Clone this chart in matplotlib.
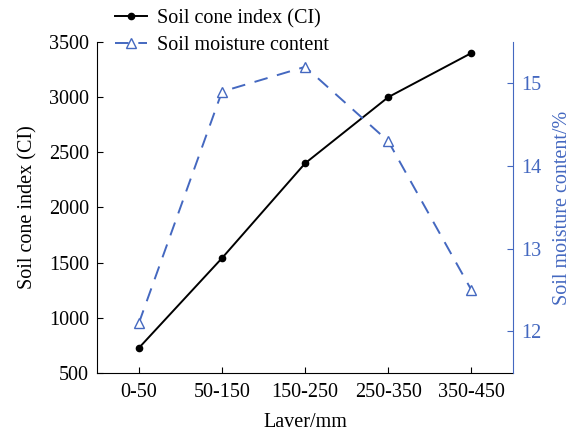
import matplotlib
matplotlib.use("Agg")
import matplotlib.pyplot as plt

plt.rcParams['font.family'] = ['Liberation Serif', 'DejaVu Serif']

layers = ['0-50', '50-150', '150-250', '250-350', '350-450']
cone_index = [725, 1540, 2400, 3000, 3400]
moisture = [12.1, 14.9, 15.2, 14.3, 12.5]

blue = '#4468c0'
x = range(len(layers))
fs = 14.5

fig = plt.figure(figsize=(5.79, 4.33), dpi=100)
ax = fig.add_axes([0.168, 0.139, 0.718, 0.764])
ax2 = ax.twinx()

l1, = ax.plot(x, cone_index, color='black', marker='o', markersize=4.5,
              linewidth=1.4, label='Soil cone index (CI)')
l2, = ax2.plot(x, moisture, color=blue, marker='^', markersize=6.5,
               markerfacecolor='white', markeredgecolor=blue, linewidth=1.4,
               dashes=(7, 5), label='Soil moisture content')

ax.set_xlim(-0.5, 4.5)
ax.set_ylim(500, 3500)
ax.set_yticks([500, 1000, 1500, 2000, 2500, 3000, 3500])
ax.set_xticks(list(x))
ax.set_xticklabels(layers)
ax2.set_ylim(11.5, 15.5)
ax2.set_yticks([12, 13, 14, 15])

ax.spines['top'].set_visible(False)
ax2.spines['top'].set_visible(False)
ax2.spines['left'].set_visible(False)
ax2.spines['bottom'].set_visible(False)
ax.spines['right'].set_visible(False)
ax2.spines['right'].set_color(blue)

ax.tick_params(labelsize=fs, direction='in', length=4, pad=6)
ax.tick_params(axis='x', pad=7)
ax2.tick_params(labelsize=fs, direction='in', length=4, colors=blue, pad=6)

ax.set_xlabel('Laver/mm', fontsize=fs, labelpad=8)
ax.set_ylabel('Soil cone index (CI)', fontsize=fs, labelpad=8)
ax2.set_ylabel('Soil moisture content/%', fontsize=fs, color=blue, labelpad=8)

ax.legend(handles=[l1, l2], loc='upper left', bbox_to_anchor=(0.192, 0.988),
          bbox_transform=fig.transFigure, frameon=False, fontsize=fs,
          handlelength=1.6, borderaxespad=0, borderpad=0.2,
          labelspacing=0.35, handletextpad=0.5)

fig.savefig('out.png', dpi=100)
